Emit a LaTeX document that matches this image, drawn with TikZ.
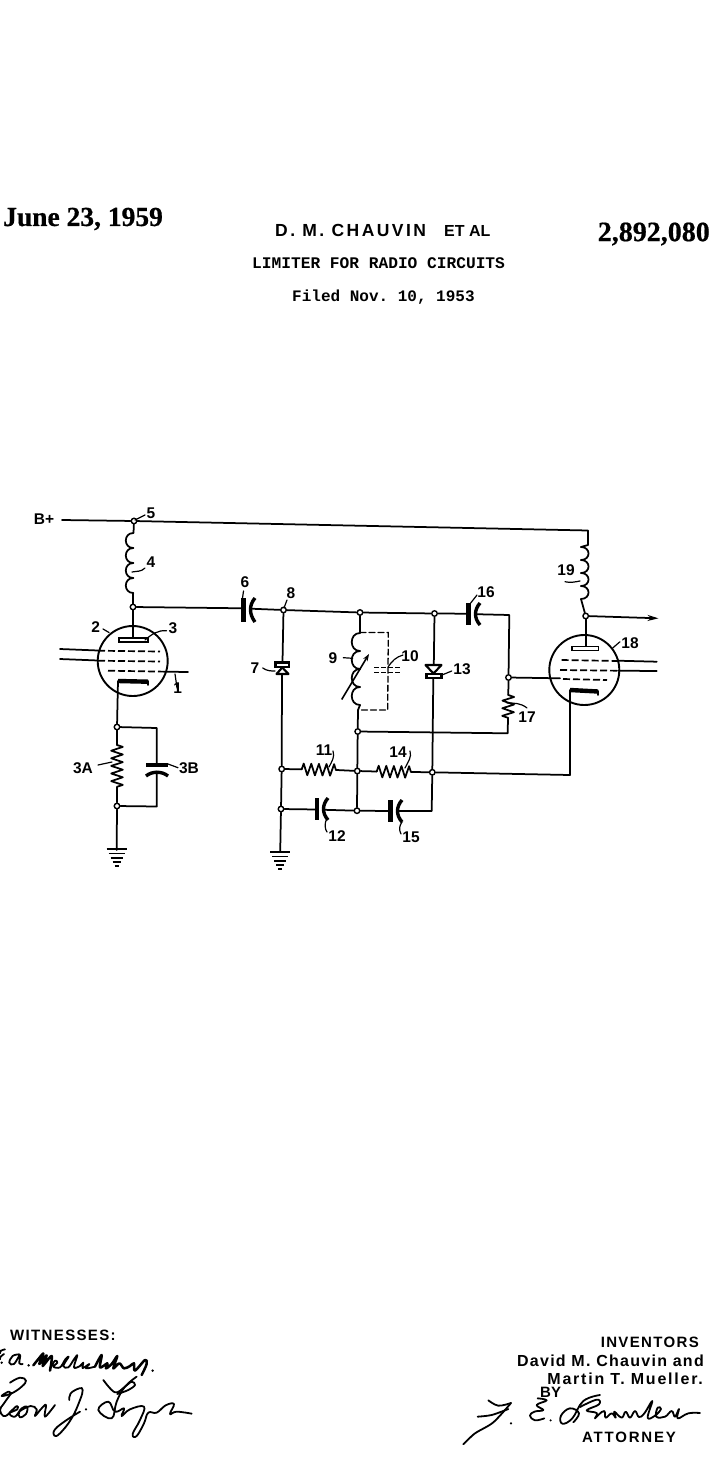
\documentclass[tikz,border=0pt]{standalone}
\usepackage{fontspec}
\setmainfont{Liberation Serif}
\setsansfont{Liberation Sans}
\setmonofont{Liberation Mono}
\usetikzlibrary{arrows.meta,decorations.pathmorphing}
\newcommand{\coilpath}[5]{% x, y0, n, h, bulge
  \foreach \ci in {1,...,#3}{
    \pgfmathsetmacro{\ya}{#2+(\ci-1)*#4}\pgfmathsetmacro{\yb}{#2+\ci*#4}\pgfmathsetmacro{\xb}{#1+#5}
    \draw[wire] (#1,\ya) .. controls (\xb,\ya) and (\xb,\yb) .. (#1,\yb);
  }}
\tikzset{
  wire/.style={line width=1.75pt,black,line cap=round,line join=round},
  thin wire/.style={line width=1.3pt,black,line cap=round},
  plate/.style={line width=4.4pt,black},
  cplate/.style={line width=3.4pt,black},
  jn/.style={circle,draw=black,fill=white,line width=1.4pt,minimum size=5.5pt,inner sep=0pt},
  tube/.style={circle,draw=black,line width=1.9pt,minimum size=70pt,inner sep=0pt},
  grid line/.style={line width=1.7pt,black,dash pattern=on 7pt off 3pt},
  res/.style={wire,decorate,decoration={zigzag,segment length=7.6pt,amplitude=5.8pt}},
  lab/.style={font=\sffamily\bfseries\fontsize{15.5}{15}\selectfont,inner sep=0pt,text=black},
  lead/.style={line width=1.2pt,black,line cap=round},
  gbar/.style={line width=1.9pt,black},
  hdr/.style={inner sep=0pt,text=black},
  sig/.style={line width=1.8pt,black,line cap=round,line join=round},
  sigthick/.style={line width=2.5pt,black,line cap=round,line join=round},
  x=1pt,y=-1pt
}
\begin{document}
\begin{tikzpicture}
\useasboundingbox[fill=white] (0,0) rectangle (720,1480);

% --- header ---
\node[anchor=west,inner sep=0pt,font=\rmfamily\bfseries\fontsize{27.5}{27}\selectfont\addfontfeature{FakeBold=.6}] (date) at (3,219) {June 23, 1959};
\node[anchor=west,inner sep=0pt,font=\sffamily\bfseries\fontsize{17.5}{16}\selectfont\addfontfeature{LetterSpace=14}] (inv) at (275,230.5) {D. M. CHAUVIN};
\node[anchor=west,inner sep=0pt,font=\sffamily\bfseries\fontsize{16}{14}\selectfont] (etal) at (444,231) {ET AL};
\node[anchor=east,inner sep=0pt,font=\rmfamily\bfseries\fontsize{28}{27}\selectfont\addfontfeature{FakeBold=.6}] (pat) at (710,234) {2,892,080};
\node[anchor=west,inner sep=0pt,font=\ttfamily\bfseries\fontsize{16.2}{16}\selectfont] (title) at (252,263) {LIMITER FOR RADIO CIRCUITS};
\node[anchor=west,inner sep=0pt,font=\ttfamily\bfseries\fontsize{16}{16}\selectfont] (filed) at (292,297.5) {Filed Nov. 10, 1953};

% --- footer ---
\node[hdr,anchor=west,font=\sffamily\bfseries\fontsize{15}{14}\selectfont\addfontfeature{LetterSpace=9}] (wit) at (10,1335) {WITNESSES:};
\node[hdr,anchor=east,font=\sffamily\bfseries\fontsize{15}{14}\selectfont\addfontfeature{LetterSpace=9}] (invs) at (699,1342) {INVENTORS};
\node[hdr,anchor=east,font=\sffamily\bfseries\fontsize{16}{14}\selectfont\addfontfeature{LetterSpace=8}] (n1) at (704,1361) {David M. Chauvin and};
\node[hdr,anchor=east,font=\sffamily\bfseries\fontsize{16}{14}\selectfont\addfontfeature{LetterSpace=11}] (n2) at (703,1379) {Martin T. Mueller.};
\node[hdr,anchor=west,font=\sffamily\bfseries\fontsize{15}{14}\selectfont] (by) at (540,1392) {BY};
\node[hdr,anchor=west,font=\sffamily\bfseries\fontsize{15}{14}\selectfont\addfontfeature{LetterSpace=12}] (att) at (582,1437) {ATTORNEY};

% --- signatures (ink strokes) ---
\begin{scope}[shift={(0,1340)},x=.3333pt,y=-.3333pt]
  % E. A. McCloskey
  \draw[sig] plot[smooth,tension=.7] coordinates {(15,28) (3,32) (0,40)};
  \draw[sig] plot[smooth,tension=.7] coordinates {(12,42) (2,50) (0,58)};
  \fill (5,68) circle (4);
  \draw[sig] plot[smooth,tension=.7] coordinates {(58,43) (38,48) (28,68) (42,72) (60,45) (58,70) (68,72)};
  \fill (86,76) circle (4);
  \draw[sigthick] plot[smooth,tension=.5] coordinates {(100,76) (125,45) (130,42) (118,72) (140,46) (128,78) (155,48) (150,92)};
  \draw[sig] plot[smooth,tension=.6] coordinates {(150,85) (165,62) (172,68) (160,80) (180,82) (196,58) (206,50) (190,78) (205,82) (222,58) (232,46) (222,82) (240,78) (250,68) (248,84) (268,72) (258,85) (285,80)};
  \draw[sigthick] plot[smooth,tension=.6] coordinates {(285,80) (305,45) (300,82) (322,70) (318,85) (335,72) (352,48) (340,85) (358,70) (372,85) (390,78) (402,70) (405,92) (435,60) (440,72) (425,105)};
  \fill (458,92) circle (4);
  % Leon J. Gaza
  \draw[sig] plot[smooth,tension=.7] coordinates {(30,128) (60,113) (78,122) (65,140) (35,160) (5,168) (25,155) (30,158)};
  \draw[sig] plot[smooth,tension=.7] coordinates {(35,158) (12,190) (0,210) (10,228) (22,225)};
  \draw[sig] plot[smooth,tension=.6] coordinates {(22,225) (50,198) (52,208) (28,220) (45,230) (65,205) (82,200) (78,222) (60,232) (58,215) (92,198) (110,208) (105,228) (125,205) (138,195) (135,230) (165,195)};
  \draw[sig] plot[smooth,tension=.7] coordinates {(208,180) (212,160) (238,145) (248,150) (240,180) (215,235) (180,280) (163,287) (165,268) (200,240) (240,215)};
  \fill (258,208) circle (3.5);
  \draw[sig] plot[smooth,tension=.6] coordinates {(310,120) (345,157) (375,140) (395,125) (405,135) (385,150) (352,162)};
  \draw[sig] plot[smooth,tension=.7] coordinates {(410,110) (375,140) (350,185) (335,235) (295,210) (325,185) (345,215) (372,205) (365,228) (390,208) (432,200) (420,240) (398,282) (410,288) (432,250) (445,218) (470,218) (497,196) (522,192) (510,222) (530,215) (575,221)};
\end{scope}
\begin{scope}[shift={(455,1385)},x=.3333pt,y=-.3333pt]
  % F. E. Browder
  \draw[sig] plot[smooth,tension=.6] coordinates {(100,46) (130,62) (168,54)};
  \draw[sig] plot[smooth,tension=.5] coordinates {(168,54) (115,112) (60,145) (25,178)};
  \draw[sig] plot[smooth,tension=.5] coordinates {(68,95) (110,90) (160,72)};
  \fill (168,115) circle (3.5);
  \draw[sig] plot[smooth,tension=.7] coordinates {(248,40) (275,46) (245,60) (265,75) (238,80) (225,92) (240,106) (268,100)};
  \fill (287,106) circle (3.5);
  \draw[sig] plot[smooth,tension=.7] coordinates {(435,30) (385,48) (352,100) (322,116) (318,92) (345,70) (372,85) (355,112)};
  \draw[sig] plot[smooth,tension=.7] coordinates {(375,66) (425,44) (432,58) (395,76) (425,84) (420,100) (432,88) (448,78) (452,98) (470,85) (482,98) (478,80) (500,98) (512,80) (525,98) (540,78) (552,96) (568,85) (592,48) (578,98) (600,92) (618,72) (608,68) (604,95) (630,95) (650,78) (660,95) (672,72) (668,100) (700,85) (735,84)};
\end{scope}

% --- junctions ---
\node[jn] (n5) at (134,521) {};
\node[jn] (np) at (133,607) {};
\node[jn] (nk) at (117,727) {};
\node[jn] (nr) at (117,806) {};
\node[jn] (n8) at (283.5,610) {};
\node[jn] (na) at (360,612.5) {};
\node[jn] (nb) at (434.5,613.5) {};
\node[jn] (ng) at (508.5,677.5) {};
\node[jn] (nc) at (357.7,731.5) {};
\node[jn] (nd) at (281.7,769) {};
\node[jn] (ne) at (357.3,771) {};
\node[jn] (nf) at (432.3,772.3) {};
\node[jn] (nh) at (281,809) {};
\node[jn] (ni) at (357,810.7) {};
\node[jn] (no) at (585.7,616) {};

% --- free terminals ---
\coordinate (bplus) at (62,520);
\coordinate (corner) at (588,530.5);
\coordinate (c19t) at (588,545);
\coordinate (c19a) at (581,547);
\coordinate (c19b) at (581,599);
\coordinate (c4t) at (133.5,533);
\coordinate (c4b) at (133,593);
\coordinate (c6a) at (243.5,608.3);
\coordinate (c6b) at (251,608.7);
\coordinate (c16a) at (468.5,613.7);
\coordinate (c16b) at (476,614.2);
\coordinate (rt) at (509.3,615);
\coordinate (r17a) at (508.3,695);
\coordinate (r17b) at (508,718);
\coordinate (r17c) at (507.7,733.3);
\coordinate (c9t) at (360,633);
\coordinate (c9b) at (360,705);
\coordinate (c9c) at (358,710);
\coordinate (c3kr) at (156.8,728);
\coordinate (c3a) at (156.8,765);
\coordinate (c3b) at (156.8,771.5);
\coordinate (c3nr) at (156.8,806.5);
\coordinate (r3a) at (117,745);
\coordinate (r3b) at (117,788);
\coordinate (g1) at (116.7,850);
\coordinate (g2) at (280.2,852);
\coordinate (k18) at (570,690);
\coordinate (k18c) at (570,775);
\coordinate (r11a) at (301.7,769.3);
\coordinate (r11b) at (336.7,770);
\coordinate (r14a) at (376.7,771.5);
\coordinate (r14b) at (413.3,772);
\coordinate (c12a) at (316.7,809.5);
\coordinate (c12b) at (324.5,809.8);
\coordinate (c15a) at (390,811);
\coordinate (c15b) at (398.5,811);
\coordinate (c15r) at (431.7,811);
\coordinate (d7a) at (282.5,662);
\coordinate (d7b) at (282,674);
\coordinate (d13a) at (433.8,665);
\coordinate (d13b) at (433.3,678);
\coordinate (out) at (658.5,618.3);

% --- main wiring ---
\draw[wire] (bplus) -- (n5) -- (corner) -- (c19t) -- (c19a);
\draw[wire] (n5) -- (c4t);
\coilpath{133.3}{533}{4}{15}{-10}
\draw[wire] (c4b) -- (np);
\draw[wire] (np) -- (c6a);
\draw[wire] (c6b) -- (n8) -- (na) -- (nb) -- (c16a);
\draw[wire] (c16b) -- (rt) -- (ng) -- (r17a);
\draw[res] (r17a) -- (r17b);
\draw[wire] (r17b) -- (r17c) -- (nc);
\draw[wire] (na) -- (c9t);
\coilpath{360}{633}{4}{18}{-11}
\draw[wire] (c9b) -- (c9c) -- (nc) -- (ne) -- (ni);
\draw[wire] (n8) -- (d7a);
\draw[wire] (d7b) -- (nd) -- (nh) -- (g2);
\draw[wire] (nb) -- (d13a);
\draw[wire] (d13b) -- (nf) -- (c15r) -- (c15b);
\draw[wire] (nd) -- (r11a);
\draw[res] (r11a) -- (r11b);
\draw[wire] (r11b) -- (ne) -- (r14a);
\draw[res] (r14a) -- (r14b);
\draw[wire] (r14b) -- (nf) -- (k18c) -- (k18);
\draw[wire] (nh) -- (c12a);
\draw[wire] (c12b) -- (ni) -- (c15a);
\draw[wire] (nk) -- (c3kr) -- (c3a);
\draw[wire] (c3b) -- (c3nr) -- (nr);
\draw[wire] (nk) -- (r3a);
\draw[res] (r3a) -- (r3b);
\draw[wire] (r3b) -- (nr) -- (g1);
\draw[wire] (c19b) -- (no);
\coilpath{581}{547}{4}{13}{10}
\draw[wire,-{Stealth[length=11pt,width=6pt]}] (no) -- (out);

% --- capacitors ---
\draw[plate] (243.5,598) -- (243.5,622);
\draw[cplate] (255,598) .. controls (249,605) and (249,614) .. (255,622);
\draw[plate] (468.5,603) -- (468.5,625);
\draw[cplate] (480,603) .. controls (474,610) and (474,618) .. (480,625);
\draw[plate] (316.8,798) -- (316.8,820);
\draw[cplate] (328,798) .. controls (322,805) and (322,813) .. (328,820);
\draw[plate] (390.5,800) -- (390.5,822);
\draw[cplate] (402,800) .. controls (396,807) and (396,815) .. (402,822);
\draw[line width=4pt,black] (146,765) -- (168,765);
\draw[cplate] (146,776) .. controls (152,771) and (162,771) .. (168,776);

% --- diodes ---
\draw[line width=2.1pt,black,fill=white] (275.5,662.5) rectangle (289,667);
\draw[line width=2.1pt,black,fill=white,line join=round] (282.3,667.5) -- (276.5,674) -- (288.5,674) -- cycle;
\draw[line width=2.1pt,black,fill=white,line join=round] (425.5,665) -- (441.5,665) -- (433.5,673.5) -- cycle;
\draw[line width=2.1pt,black,fill=white] (426.5,674) rectangle (441.5,678);

% --- tunable coil + trimmer in dashed box ---
\draw[thin wire,dash pattern=on 6pt off 3pt] (360,632.5) -- (388.3,632.5) -- (387.7,710) -- (358,710);
\draw[line width=1.6pt,-{Stealth[length=7pt,width=5pt]}] (341.7,699.5) -- (369,654);
\draw[line width=1.4pt,dash pattern=on 5pt off 2pt] (374,667.7) -- (400,667.7);
\draw[line width=1.4pt,dash pattern=on 5pt off 2pt] (374,672.5) -- (400,672.5);

% --- tube 1 ---
\node[tube] (t1) at (132.7,661) {};
\draw[wire] (np) -- (133,640);
\draw[line width=1.6pt,black,fill=white] (119,638.2) rectangle (148,642);
\draw[grid line] (98,650.7) -- (160,651.5);
\draw[grid line] (98,660.7) -- (160,661.5);
\draw[grid line] (108,670.7) -- (167,671.7);
\draw[wire] (167,671.7) -- (188,672);
\draw[wire] (60,649) -- (98,650.5);
\draw[wire] (60,659) -- (98,660.5);
\draw[line width=4.4pt,black] (118,681) -- (148,681.7);
\draw[wire] (148,681) -- (148,685);
\draw[wire] (118,681) -- (nk);

% --- tube 18 ---
\node[tube] (t2) at (584.3,670) {};
\draw[wire] (no) -- (585.7,647);
\draw[line width=1.6pt,black,fill=white] (571.7,646.5) rectangle (598.3,650.3);
\draw[grid line] (561.7,660) -- (618,661);
\draw[grid line] (560,670) -- (618,670.7);
\draw[grid line] (563,679) -- (607,680);
\draw[wire] (618,660.7) -- (656.7,661.7);
\draw[wire] (618,670.7) -- (656.7,671);
\draw[wire] (ng) -- (560,678.3);
\draw[line width=4.4pt,black] (570,690) -- (598,691.5);
\draw[wire] (598,691) -- (598,695);

% --- ground symbols ---
\foreach \gx/\gy in {116.7/849, 280.2/852}{
  \draw[gbar] (\gx-10,\gy) -- (\gx+10,\gy);
  \draw[gbar] (\gx-8,\gy+4.5) -- (\gx+8,\gy+4.5);
  \draw[gbar] (\gx-6,\gy+9) -- (\gx+6,\gy+9);
  \draw[gbar] (\gx-4,\gy+13) -- (\gx+4,\gy+13);
  \draw[gbar] (\gx-2,\gy+17) -- (\gx+2,\gy+17);
}

% --- labels ---
\node[lab] (lbp) at (44,519.5) {B+};
\node[lab] (l5) at (151,513) {5};
\node[lab] (l4) at (151,562) {4};
\node[lab] (l2) at (95.7,627) {2};
\node[lab] (l3) at (173,628) {3};
\node[lab] (l1) at (177.7,688) {1};
\node[lab] (l3a) at (83,768) {3A};
\node[lab] (l3b) at (189,768) {3B};
\node[lab] (l6) at (245,582) {6};
\node[lab] (l7) at (255,668) {7};
\node[lab] (l8) at (291,593) {8};
\node[lab] (l9) at (333,658) {9};
\node[lab] (l10) at (410,656) {10};
\node[lab] (l11) at (324,750) {11};
\node[lab] (l12) at (337,836) {12};
\node[lab] (l13) at (462,669) {13};
\node[lab] (l14) at (398,752) {14};
\node[lab] (l15) at (411,837) {15};
\node[lab] (l16) at (486,592) {16};
\node[lab] (l17) at (527,717) {17};
\node[lab] (l18) at (630,643.5) {18};
\node[lab] (l19) at (566,570) {19};

% --- label leaders ---
\draw[lead] (145,515) -- (135,520);
\draw[lead] (145,568) .. controls (141,572) and (137,571) .. (132,572);
\draw[lead] (103,629) -- (109,632.5);
\draw[lead] (166.5,630.7) .. controls (158,630) and (152,634) .. (145,640);
\draw[lead] (177,688) -- (175,674);
\draw[lead] (98,765) -- (112,762);
\draw[lead] (178,767.7) -- (168,764);
\draw[lead] (243.5,591) -- (242.5,598);
\draw[lead] (262.7,668) .. controls (267,671) and (271,671) .. (275,671);
\draw[lead] (287,600) -- (284,608);
\draw[lead] (343.3,657.7) -- (352.7,658.3);
\draw[lead] (403,655) .. controls (396,657) and (392,661) .. (388,667);
\draw[lead] (451.7,671) -- (442,675);
\draw[lead] (333,751) .. controls (335,757) and (332,761) .. (329,767);
\draw[lead] (410,751) .. controls (412,757) and (408,762) .. (405,768);
\draw[lead] (327,818) .. controls (324,824) and (325,829) .. (327,832);
\draw[lead] (402,822) .. controls (399,826) and (399,830) .. (401,834);
\draw[lead] (477,595) -- (470.7,603);
\draw[lead] (507,703) .. controls (514,703) and (521,703) .. (527,708);
\draw[lead] (620,641.7) -- (612.7,648);
\draw[lead] (565,581.7) .. controls (570,583) and (575,582) .. (580,581);
\end{tikzpicture}
\end{document}
